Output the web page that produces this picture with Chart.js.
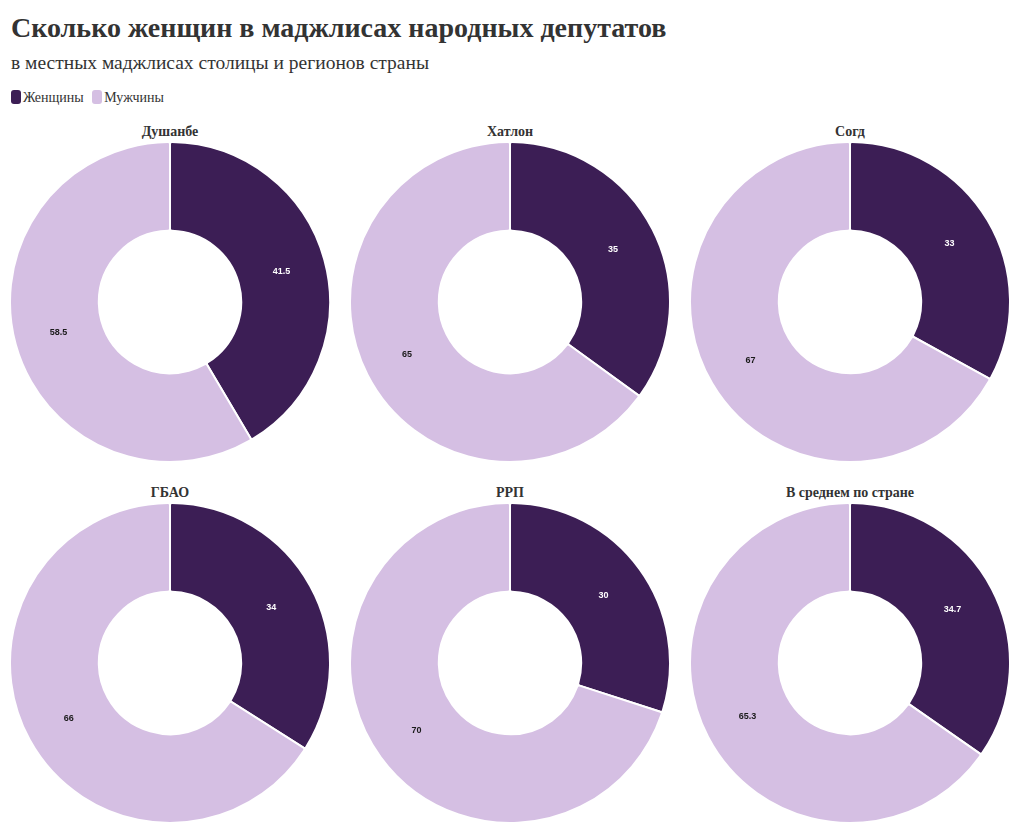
<!DOCTYPE html>
<html>
<head>
<meta charset="utf-8">
<script src="https://cdn.jsdelivr.net/npm/chart.js@4"></script>
<style>
  body { margin: 0; background: #fff; width: 1020px; height: 833px; position: relative; overflow: hidden; font-family: "Liberation Serif", serif; color: #333; }
  h1 { position: absolute; left: 11px; top: 8px; margin: 0; font-size: 28px; font-weight: bold; line-height: 40px; color: #333; }
  .sub { position: absolute; left: 11px; top: 51px; font-size: 19.5px; line-height: 24px; color: #333; }
  .legend { position: absolute; left: 11px; top: 89px; font-size: 14px; line-height: 18px; color: #333; }
  .legend span.box { display: inline-block; width: 10px; height: 14px; border-radius: 3px; vertical-align: -2px; margin-right: 2px; }
  .legend span.item { margin-right: 5px; }
  .ttl { position: absolute; width: 340px; text-align: center; font-size: 14px; font-weight: bold; line-height: 18px; color: #333; }
  canvas { position: absolute; }
</style>
</head>
<body>
<h1>Сколько женщин в маджлисах народных депутатов</h1>
<div class="sub">в местных маджлисах столицы и регионов страны</div>
<div class="legend">
  <span class="item"><span class="box" style="background:#3c1e55"></span>Женщины</span>
  <span class="item"><span class="box" style="background:#d5bfe3"></span>Мужчины</span>
</div>
<div id="charts"></div>
<script>
var regions = ["Душанбе", "Хатлон", "Согд", "ГБАО", "РРП", "В среднем по стране"];
var seriesNames = ["Женщины", "Мужчины"];
var women = [41.5, 35, 33, 34, 30, 34.7];
var men = [58.5, 65, 67, 66, 70, 65.3];

var colors = ["#3c1e55", "#d5bfe3"];
var labelColors = ["#ffffff", "#1a1a1a"];

// draws the value in the middle of each slice
var valueLabels = {
  id: "valueLabels",
  afterDatasetsDraw: function(chart) {
    var ctx = chart.ctx;
    var ds = chart.data.datasets[0];
    chart.getDatasetMeta(0).data.forEach(function(arc, i) {
      var p = arc.tooltipPosition();
      ctx.save();
      ctx.font = "bold 9px 'Liberation Sans', Arial, sans-serif";
      ctx.fillStyle = labelColors[i];
      ctx.textAlign = "center";
      ctx.textBaseline = "middle";
      ctx.fillText(String(ds.data[i]), p.x, p.y);
      ctx.restore();
    });
  }
};

var holder = document.getElementById("charts");
var colX = [170, 510, 850];
var rowY = [302, 663];

regions.forEach(function(name, k) {
  var cx = colX[k % 3];
  var cy = rowY[Math.floor(k / 3)];

  var t = document.createElement("div");
  t.className = "ttl";
  t.textContent = name;
  t.style.left = (cx - 170) + "px";
  t.style.top = (cy - 179) + "px";
  holder.appendChild(t);

  var c = document.createElement("canvas");
  c.width = 322;
  c.height = 322;
  c.style.left = (cx - 161) + "px";
  c.style.top = (cy - 161) + "px";
  holder.appendChild(c);

  new Chart(c, {
    type: "doughnut",
    data: {
      labels: seriesNames,
      datasets: [{
        data: [women[k], men[k]],
        backgroundColor: colors,
        borderColor: "#ffffff",
        borderWidth: 2,
        borderRadius: 2
      }]
    },
    options: {
      responsive: false,
      animation: false,
      cutout: "44.5%",
      events: [],
      layout: { padding: 0 },
      plugins: {
        legend: { display: false },
        tooltip: { enabled: false }
      }
    },
    plugins: [valueLabels]
  });
});
</script>
</body>
</html>
